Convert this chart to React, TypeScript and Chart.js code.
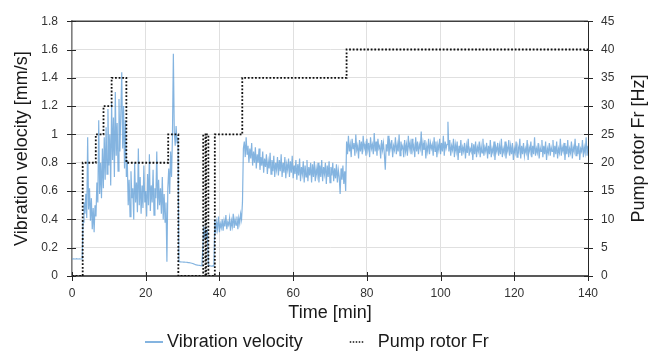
import React, { useEffect, useRef } from "react";
import { Chart, registerables } from "chart.js";

Chart.register(...registerables);

const FONT = '"Liberation Sans", Arial, Helvetica, sans-serif';

const X_TITLE = "Time [min]";
const Y_TITLE = "Vibration velocity [mm/s]";
const Y1_TITLE = "Pump rotor Fr [Hz]";
const SERIES_VIB = "Vibration velocity";
const SERIES_PUMP = "Pump rotor Fr";

// Pump rotor frequency (step changes): time [min] -> Fr [Hz]
const PUMP_TIMES = [0, 2.9, 6.45, 8.55, 10.75, 14.75, 26.1, 28.85, 35.6, 36.2, 36.4, 37.0, 38.75, 46.2, 74.5, 140];
const PUMP_FR = [0, 20, 25, 30, 35, 20, 25, 0, 25, 0, 25, 0, 25, 35, 40, 40];

// Vibration velocity, in time segments [start, end] (min)
const VIB_SEG_TIMES = [
  [0, 2.75], [3, 6.25], [6.5, 9], [9.25, 14.75], [15, 25.5], [25.75, 28.75],
  [29, 35.25], [35.5, 38.5], [38.75, 46.25], [46.5, 60], [60.25, 74.25],
  [74.5, 80], [80.25, 90], [90.25, 100], [100.25, 110], [110.25, 120], [120.25, 130], [130.25, 140],
];

const vibIdle = [0.12, 0.12, 0.121, 0.12, 0.12, 0.122, 0.12, 0.12, 0.121, 0.12, 0.12, 0.12];
const vibLow20 = [0.38, 0.52, 0.44, 0.58, 0.41, 0.98, 0.47, 0.62, 0.39, 0.55, 0.33, 0.48, 0.31, 0.5];
const vibRise = [0.42, 0.66, 0.52, 1.1, 0.58, 0.8, 0.55, 0.9, 0.62, 0.98, 0.68];
const vibHigh35 = [1.05, 0.72, 1.18, 0.78, 1.0, 0.64, 1.22, 0.82, 1.12, 0.7, 1.3, 0.85, 1.08, 0.74, 1.25, 0.88, 1.15, 1.44, 0.9, 1.2, 0.76, 1.1, 0.7];
const vibMid20 = [
  0.82, 0.5, 0.68, 0.42, 0.74, 0.55, 0.62, 0.4, 0.8, 0.52, 0.66, 0.45, 0.9, 0.5, 0.7, 0.44,
  0.64, 0.48, 0.78, 0.52, 0.6, 0.42, 0.72, 0.5, 0.86, 0.46, 0.64, 0.52, 0.75, 0.43, 0.62, 0.55,
  0.88, 0.47, 0.68, 0.5, 0.62, 0.44, 0.7, 0.4, 0.58, 0.38, 0.52,
];
const vibSpike = [0.1, 0.62, 0.76, 0.58, 0.88, 0.7, 0.98, 1.57, 1.02, 0.92, 1.06, 0.94, 0.98];
const vibStop = [
  0.1, 0.1, 0.1, 0.099, 0.099, 0.098, 0.098, 0.097, 0.097, 0.096, 0.095, 0.094, 0.094,
  0.092, 0.09, 0.088, 0.086, 0.083, 0.08, 0.078, 0.077, 0.076, 0.075, 0.074, 0.073, 0.072,
];
const vibPulse = [0.2, 0.35, 0.26, 0.33, 0.28, 0.31, 0.08, 0.075, 0.072, 0.07, 0.07, 0.072, 0.07];
const vib25b = [
  0.4, 0.3, 0.38, 0.33, 0.42, 0.31, 0.37, 0.34, 0.4, 0.32, 0.39, 0.35, 0.43, 0.33, 0.38, 0.36,
  0.41, 0.32, 0.39, 0.35, 0.44, 0.34, 0.4, 0.36, 0.42, 0.33, 0.41, 0.37, 0.44, 0.4, 0.52,
];
const vib35a = [
  0.9, 0.95, 0.84, 0.98, 0.86, 0.92, 0.8, 0.9, 0.83, 0.94,
  0.78, 0.88, 0.8, 0.91, 0.76, 0.86, 0.8, 0.9, 0.75, 0.84,
  0.78, 0.88, 0.73, 0.83, 0.77, 0.86, 0.72, 0.81, 0.76, 0.87,
  0.72, 0.82, 0.74, 0.85, 0.7, 0.8, 0.75, 0.84, 0.71, 0.82,
  0.74, 0.86, 0.7, 0.8, 0.73, 0.84, 0.69, 0.79, 0.75, 0.83,
  0.7, 0.81, 0.73, 0.85, 0.69,
];
const vib35b = [
  0.78, 0.72, 0.82, 0.68, 0.79, 0.71, 0.83, 0.67, 0.77, 0.72, 0.81, 0.66, 0.78, 0.7, 0.82, 0.67,
  0.77, 0.71, 0.8, 0.66, 0.79, 0.7, 0.81, 0.67, 0.76, 0.71, 0.8, 0.66, 0.78, 0.7, 0.82, 0.67,
  0.77, 0.72, 0.8, 0.65, 0.78, 0.7, 0.81, 0.66, 0.77, 0.71, 0.8, 0.67, 0.76, 0.69, 0.79, 0.66,
  0.75, 0.7, 0.58, 0.76, 0.68, 0.78, 0.65, 0.74, 0.6,
];
const vib40a = [0.95, 0.86, 0.99, 0.88, 0.93, 0.84, 0.97, 0.9, 0.94, 0.85, 1.0, 0.89, 0.92, 0.83, 0.96, 0.88, 0.95, 0.86, 0.99, 0.9, 0.93, 0.85, 0.97];
const vib40b = [
  0.89, 0.94, 0.84, 0.98, 0.9, 0.93, 0.86, 1.01, 0.88, 0.95, 0.85, 0.97, 0.9, 0.92, 0.83, 0.96, 0.89, 0.94, 0.86, 0.75,
  0.93, 0.88, 0.99, 0.85, 0.94, 0.9, 0.96, 0.84, 0.92, 0.89, 0.98, 0.86, 0.93, 0.88, 1.0, 0.85, 0.95, 0.9, 0.92, 0.84,
];
const vib40c = [
  0.96, 0.88, 0.93, 0.85, 0.99, 0.9, 0.94, 0.86, 0.97, 0.89, 0.92, 0.84, 0.98, 0.88, 0.95, 0.86, 0.93, 0.9, 1.02, 0.85,
  0.94, 0.89, 0.96, 0.83, 0.92, 0.88, 0.97, 0.86, 0.94, 0.9, 0.93, 0.85, 0.98, 0.88, 0.95, 0.84, 0.93, 0.89, 0.97, 0.86,
];
const vib40d = [
  0.94, 0.88, 0.99, 0.85, 0.95, 0.9, 0.93, 1.09, 0.88, 0.96, 0.85, 0.92, 0.89, 0.97, 0.84, 0.93, 0.88, 0.95, 0.82, 0.92,
  0.87, 0.96, 0.85, 0.91, 0.88, 0.94, 0.83, 0.92, 0.87, 0.97, 0.85, 0.9, 0.88, 0.94, 0.82, 0.93, 0.86, 0.95, 0.84, 0.91,
];
const vib40e = [
  0.88, 0.95, 0.84, 0.92, 0.87, 0.97, 0.85, 0.91, 0.88, 0.94, 0.83, 0.92, 0.86, 0.96, 0.84, 0.9, 0.87, 0.95, 0.82, 0.91,
  0.88, 0.94, 0.85, 0.92, 0.86, 0.97, 0.84, 0.9, 0.87, 0.95, 0.83, 0.91, 0.88, 0.96, 0.85, 0.92, 0.86, 0.94, 0.82, 0.9,
];
const vib40f = [
  0.87, 0.95, 0.84, 0.91, 0.88, 0.97, 0.83, 0.92, 0.86, 0.94, 0.85, 0.9, 0.87, 0.96, 0.82, 0.91, 0.88, 0.95, 0.84, 0.92,
  0.86, 0.98, 0.85, 0.9, 0.87, 0.94, 0.83, 0.91, 0.88, 0.96, 0.84, 0.92, 0.86, 0.95, 0.82, 0.9, 0.87, 0.94, 0.85, 0.91,
];
const vib40g = [
  0.88, 0.96, 0.84, 0.92, 0.86, 0.95, 0.83, 0.9, 0.87, 0.97, 0.85, 0.91, 0.88, 0.94, 0.82, 0.92, 0.86, 0.96, 0.84, 0.9,
  0.87, 0.95, 0.83, 0.91, 0.88, 0.97, 0.85, 0.92, 0.86, 0.94, 0.82, 0.9, 0.88, 0.96, 0.84, 0.91, 0.87, 0.98, 0.85, 0.92,
];

const VIB_SEGMENTS = [
  vibIdle, vibLow20, vibRise, vibHigh35, vibMid20, vibSpike, vibStop, vibPulse, vib25b,
  vib35a, vib35b, vib40a, vib40b, vib40c, vib40d, vib40e, vib40f, vib40g,
];

const X_MIN = 0, X_MAX = 140, X_STEP = 20;
const Y_MIN = 0, Y_MAX = 1.8, Y_STEP = 0.2;
const Y1_MIN = 0, Y1_MAX = 45, Y1_STEP = 5;

const VIB_COLOR = "rgba(91,155,213,0.75)";
const PUMP_COLOR = "#111111";

function vibPoints() {
  const pts: { x: number; y: number }[] = [];
  VIB_SEGMENTS.forEach((vals, s) => {
    const [t0, t1] = VIB_SEG_TIMES[s];
    const n = vals.length;
    vals.forEach((v, i) => pts.push({ x: n > 1 ? t0 + ((t1 - t0) * i) / (n - 1) : t0, y: v }));
  });
  return pts;
}

function pumpPoints() {
  return PUMP_TIMES.map((t, i) => ({ x: t, y: PUMP_FR[i] }));
}

const framePlugin = {
  id: "frameAndLegend",
  afterDraw(chart: any) {
    const { ctx, chartArea } = chart;
    const { left, right, top, bottom } = chartArea;
    const sx = chart.scales.x, sy = chart.scales.y, sy1 = chart.scales.y1;
    ctx.save();
    // top border
    ctx.strokeStyle = "#404040";
    ctx.lineWidth = 1.5;
    ctx.beginPath();
    ctx.moveTo(left, top);
    ctx.lineTo(right, top);
    ctx.stroke();
    // crossing tick marks
    ctx.strokeStyle = "#262626";
    ctx.lineWidth = 1;
    ctx.beginPath();
    sy.ticks.forEach((t: any) => {
      const p = Math.round(sy.getPixelForValue(t.value)) + 0.5;
      ctx.moveTo(left - 5, p);
      ctx.lineTo(left + 4, p);
    });
    sy1.ticks.forEach((t: any) => {
      const p = Math.round(sy1.getPixelForValue(t.value)) + 0.5;
      ctx.moveTo(right - 4, p);
      ctx.lineTo(right + 5, p);
    });
    sx.ticks.forEach((t: any) => {
      const p = Math.round(sx.getPixelForValue(t.value)) + 0.5;
      ctx.moveTo(p, bottom - 4);
      ctx.lineTo(p, bottom + 5);
    });
    ctx.stroke();
    // right axis title, reading bottom to top
    ctx.save();
    ctx.fillStyle = "#1a1a1a";
    ctx.font = `18px ${FONT}`;
    ctx.textAlign = "center";
    ctx.textBaseline = "middle";
    ctx.translate(right + 51, (top + bottom) / 2);
    ctx.rotate(-Math.PI / 2);
    ctx.fillText(Y1_TITLE, 0, 0);
    ctx.restore();
    // legend
    const ly = 342;
    let lx = 145;
    ctx.font = `18px ${FONT}`;
    ctx.textAlign = "left";
    ctx.textBaseline = "middle";
    ctx.fillStyle = "#1a1a1a";
    ctx.strokeStyle = VIB_COLOR;
    ctx.lineWidth = 2;
    ctx.setLineDash([]);
    ctx.beginPath();
    ctx.moveTo(lx, ly);
    ctx.lineTo(lx + 18, ly);
    ctx.stroke();
    ctx.fillText(SERIES_VIB, lx + 22, ly);
    lx = lx + 22 + ctx.measureText(SERIES_VIB).width + 47;
    ctx.strokeStyle = PUMP_COLOR;
    ctx.lineWidth = 1.5;
    ctx.setLineDash([1.5, 1.5]);
    ctx.beginPath();
    ctx.moveTo(lx, ly);
    ctx.lineTo(lx + 15, ly);
    ctx.stroke();
    ctx.setLineDash([]);
    ctx.fillText(SERIES_PUMP, lx + 28, ly);
    ctx.restore();
  },
};

export default function App() {
  const ref = useRef<HTMLCanvasElement | null>(null);
  useEffect(() => {
    if (!ref.current) return;
    Chart.defaults.font.family = FONT;
    const chart = new Chart(ref.current, {
      type: "line",
      data: {
        datasets: [
          {
            label: SERIES_PUMP,
            data: pumpPoints(),
            yAxisID: "y1",
            borderColor: PUMP_COLOR,
            borderWidth: 1.8,
            borderDash: [1.8, 1.8],
            stepped: true,
            pointRadius: 0,
            fill: false,
            order: 0,
          },
          {
            label: SERIES_VIB,
            data: vibPoints(),
            yAxisID: "y",
            borderColor: VIB_COLOR,
            borderWidth: 1.2,
            pointRadius: 0,
            tension: 0,
            fill: false,
            order: 1,
          },
        ],
      },
      options: {
        animation: false,
        responsive: true,
        maintainAspectRatio: false,
        devicePixelRatio: 1,
        parsing: false as any,
        layout: { padding: { top: 13, bottom: 32, left: 0, right: 0 } },
        plugins: { legend: { display: false }, tooltip: { enabled: false } },
        scales: {
          x: {
            type: "linear",
            min: X_MIN,
            max: X_MAX,
            ticks: { stepSize: X_STEP, padding: 10, color: "#333333", font: { size: 12 }, maxRotation: 0 },
            grid: { color: "#e0e0e0", drawTicks: false },
            border: { color: "#595959", width: 2 },
            title: { display: true, text: X_TITLE, color: "#1a1a1a", font: { size: 18 }, padding: { top: 0, bottom: 0 } },
            afterFit(s: any) { s.height = 48; },
          },
          y: {
            type: "linear",
            position: "left",
            min: Y_MIN,
            max: Y_MAX,
            ticks: {
              stepSize: Y_STEP,
              padding: 14,
              color: "#333333",
              font: { size: 12 },
              callback: (v: any) => Number(v).toFixed(1).replace(/\.0$/, ""),
            },
            grid: { color: "#e0e0e0", drawTicks: false },
            border: { color: "#7f7f7f", width: 1.5 },
            title: { display: true, text: Y_TITLE, color: "#1a1a1a", font: { size: 18 }, padding: { top: 11, bottom: 0 } },
            afterFit(s: any) { s.width = 72; },
          },
          y1: {
            type: "linear",
            position: "right",
            min: Y1_MIN,
            max: Y1_MAX,
            ticks: { stepSize: Y1_STEP, padding: 13, color: "#333333", font: { size: 12 } },
            grid: { display: false, drawTicks: false },
            border: { color: "#262626", width: 1 },
            afterFit(s: any) { s.width = 76; },
          },
        },
      },
      plugins: [framePlugin],
    } as any);
    return () => chart.destroy();
  }, []);
  return (
    <div style={{ position: "absolute", left: 0, top: 0, width: 664, height: 356 }}>
      <canvas ref={ref} />
    </div>
  );
}
